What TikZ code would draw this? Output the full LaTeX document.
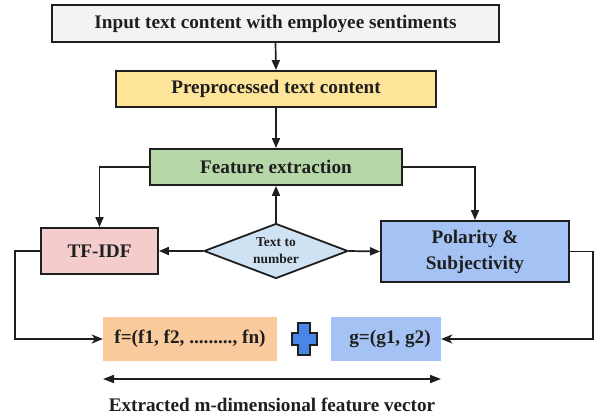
\documentclass[tikz,border=0pt]{standalone}
\usepackage{fontspec}
\setmainfont{Liberation Serif}
\usetikzlibrary{shapes.geometric,arrows.meta}
\definecolor{cinput}{HTML}{F3F3F3}
\definecolor{cpre}{HTML}{FFE599}
\definecolor{cfeat}{HTML}{B6D7A8}
\definecolor{ctfidf}{HTML}{F4CCCC}
\definecolor{cdiam}{HTML}{CFE2F3}
\definecolor{cpol}{HTML}{A4C2F4}
\definecolor{cf}{HTML}{F9CB9C}
\definecolor{cg}{HTML}{A4C2F4}
\definecolor{cplus}{HTML}{4A86E8}
\definecolor{cline}{HTML}{1F1F1F}
\begin{document}
\begin{tikzpicture}[x=1pt,y=-1pt,
  every node/.style={font=\fontsize{19.2}{26}\selectfont\bfseries, text=cline},
  box/.style={draw=cline, line width=1.8pt, rectangle, inner sep=0pt},
  flat/.style={rectangle, inner sep=0pt},
  conn/.style={draw=cline, line width=1.7pt, -{Triangle[length=10pt,width=8pt]}},
  openarr/.style={draw=cline, line width=1.7pt, -{Stealth[length=11pt,width=9pt,inset=3pt]}},
  dbl/.style={draw=cline, line width=1.7pt, {Triangle[length=11pt,width=8pt]}-{Triangle[length=11pt,width=8pt]}}
]
\useasboundingbox (0,0) rectangle (600,418);
\fill[white] (0,0) rectangle (600,418);

\node[box, fill=cinput, minimum width=447pt, minimum height=37pt] (input) at (275.5,23.5) {Input text content with employee sentiments};
\node[box, fill=cpre, minimum width=320pt, minimum height=36pt] (pre) at (276,89) {Preprocessed text content};
\node[box, fill=cfeat, minimum width=252pt, minimum height=36pt] (feat) at (276,167) {Feature extraction};
\node[box, fill=ctfidf, minimum width=117pt, minimum height=46pt] (tfidf) at (99.5,251) {TF-IDF};
\node[draw=cline, line width=1.8pt, diamond, aspect=2.62, fill=cdiam, inner sep=0pt, minimum width=144pt, minimum height=55pt, align=center, font=\fontsize{13.5}{17}\selectfont\bfseries] (diam) at (276,251) {Text to\\number};
\node[box, fill=cpol, minimum width=188pt, minimum height=61pt, align=center] (pol) at (475,251.5) {Polarity \&\\Subjectivity};
\node[flat, fill=cf, minimum width=174pt, minimum height=44pt] (f) at (190,339) {f=(f1, f2, ........., fn)};
\node[flat, fill=cg, minimum width=110pt, minimum height=44pt] (g) at (386,339) {\hspace*{8pt}g=(g1, g2)};

\draw[draw=cline, line width=1.1pt, fill=cplus]
  (298,323) -- (310,323) -- (310,333) -- (317,333) -- (317,345) -- (310,345) -- (310,355)
  -- (298,355) -- (298,345) -- (292,345) -- (292,333) -- (298,333) -- cycle;

\coordinate (lc) at (15,251);
\coordinate (rc) at (593,251.5);
\coordinate (dl) at (103,379);
\coordinate (dr) at (441,379);

\draw[conn] (input.south) -- (pre.north);
\draw[conn] (pre.south) -- (feat.north);
\draw[conn] (diam.north) -- (feat.south);
\draw[conn] (feat.west) -| (tfidf.north);
\draw[conn] (feat.east) -| (pol.north);
\draw[conn] (diam.west) -- (tfidf.east);
\draw[conn] (diam.east) -- (pol.west);
\draw[openarr] (tfidf.west) -- (lc) |- (f.west);
\draw[openarr] (pol.east) -- (rc) |- (g.east);
\draw[dbl] (dl) -- (dr);

\node (lbl) at (272,405) {Extracted m-dimensional feature vector};
\end{tikzpicture}
\end{document}
